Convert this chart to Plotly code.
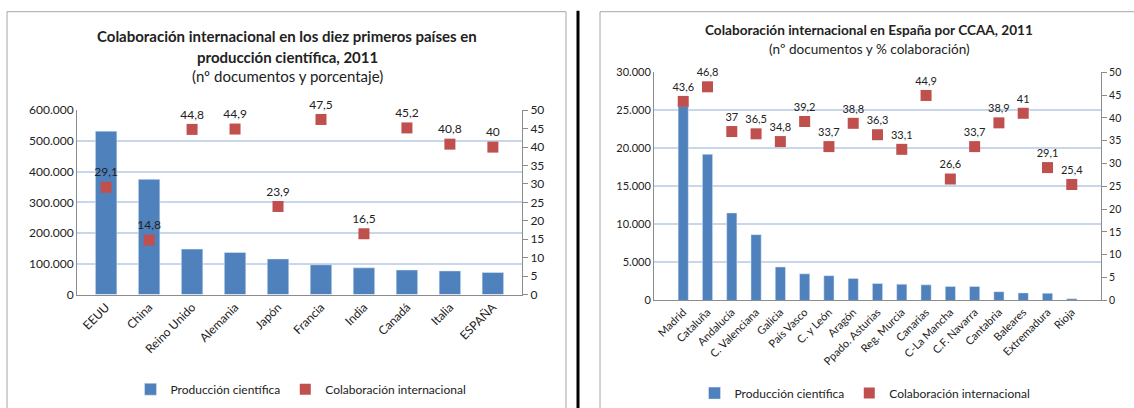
import plotly.graph_objects as go

# left chart: top ten countries
countries = ["EEUU", "China", "Reino Unido", "Alemania", "Japón", "Francia",
             "India", "Canadá", "Italia", "ESPAÑA"]
country_docs = [532000, 375000, 148000, 137000, 116000, 97000, 87000, 80000, 77000, 72000]
country_collab = [29.1, 14.8, 44.8, 44.9, 23.9, 47.5, 16.5, 45.2, 40.8, 40]

# right chart: spanish regions
regions = ["Madrid", "Cataluña", "Andalucía", "C. Valenciana", "Galicia", "País Vasco",
           "C. y León", "Aragón", "Ppado. Asturias", "Reg. Murcia", "Canarias",
           "C-La Mancha", "C.F. Navarra", "Cantabria", "Baleares", "Extremadura", "Rioja"]
region_docs = [25500, 19200, 11500, 8650, 4400, 3500, 3260, 2900, 2220, 2140, 2050,
               1840, 1840, 1150, 990, 940, 220]
region_collab = [43.6, 46.8, 37, 36.5, 34.8, 39.2, 33.7, 38.8, 36.3, 33.1, 44.9,
                 26.6, 33.7, 38.9, 41, 29.1, 25.4]

BLUE = "#4F81BD"
RED = "#C0504D"
GRID = "#C9D7EC"
AXIS = "#8C8C8C"
FONT = "Lato"
W, H = 1134, 408


def lab(v):
    return f"{v:g}".replace(".", ",")


def px_x(x):
    return x / W


def px_y(y):
    return 1 - y / H


fig = go.Figure()

fig.add_trace(go.Bar(x=countries, y=country_docs, marker_color=BLUE, width=0.5,
                     name="Producción científica", xaxis="x", yaxis="y", legend="legend"))
fig.add_trace(go.Scatter(x=countries, y=country_collab, mode="markers+text",
                         marker=dict(symbol="square", size=11, color=RED),
                         text=[lab(v) for v in country_collab], textposition="top center",
                         textfont=dict(size=12, color="#222"), cliponaxis=False,
                         name="Colaboración internacional", xaxis="x", yaxis="y2", legend="legend"))

fig.add_trace(go.Bar(x=regions, y=region_docs, marker_color=BLUE, width=0.42,
                     name="Producción científica", xaxis="x2", yaxis="y3", legend="legend2"))
fig.add_trace(go.Scatter(x=regions, y=region_collab, mode="markers+text",
                         marker=dict(symbol="square", size=11, color=RED),
                         text=[lab(v) for v in region_collab], textposition="top center",
                         textfont=dict(size=11, color="#222"), cliponaxis=False,
                         name="Colaboración internacional", xaxis="x2", yaxis="y4", legend="legend2"))

xcommon = dict(tickangle=-45, showline=True, linecolor=AXIS, ticks="", showgrid=False,
               automargin=False, tickfont=dict(size=12, color="#222"))
left_common = dict(showline=True, linecolor=AXIS, gridcolor=GRID, gridwidth=1.5,
                   ticks="", zeroline=False, tickformat=",d", automargin=False,
                   tickfont=dict(size=12, color="#222"))
right_common = dict(side="right", showline=True, linecolor=AXIS, showgrid=False, ticks="outside",
                    ticklen=5, tickcolor=AXIS, range=[0, 50], dtick=5, zeroline=False,
                    automargin=False, tickfont=dict(size=12, color="#222"))

fig.update_layout(
    width=W, height=H,
    margin=dict(l=0, r=0, t=0, b=0),
    paper_bgcolor="white", plot_bgcolor="white",
    font=dict(family=FONT, color="#222"),
    separators=",.",
    xaxis=dict(domain=[px_x(77), px_x(522)], anchor="y", **xcommon),
    yaxis=dict(domain=[px_y(302), px_y(113)], anchor="x", range=[0, 600000], dtick=100000,
               **left_common),
    yaxis2=dict(overlaying="y", anchor="x", **right_common),
    xaxis2=dict(domain=[px_x(654), px_x(1101)], anchor="y3",
                **{**xcommon, "tickfont": dict(size=11, color="#222")}),
    yaxis3=dict(domain=[px_y(308), px_y(74)], anchor="x2", range=[0, 30000], dtick=5000,
                **{**left_common, "tickfont": dict(size=11, color="#222")}),
    yaxis4=dict(overlaying="y3", anchor="x2",
                **{**right_common, "tickfont": dict(size=10.5, color="#222")}),
    legend=dict(orientation="h", x=px_x(301), xanchor="center", y=px_y(399), yanchor="middle",
                font=dict(size=12), bgcolor="rgba(0,0,0,0)", itemwidth=30),
    legend2=dict(orientation="h", x=px_x(865), xanchor="center", y=px_y(403), yanchor="middle",
                 font=dict(size=12), bgcolor="rgba(0,0,0,0)", itemwidth=30),
    showlegend=True,
)

# panel frames and the separating black line
fig.add_shape(type="rect", xref="paper", yref="paper", x0=px_x(7), x1=px_x(566),
              y0=-0.05, y1=px_y(12), line=dict(color="#A6A6A6", width=1))
fig.add_shape(type="rect", xref="paper", yref="paper", x0=px_x(600), x1=px_x(1140),
              y0=-0.05, y1=px_y(12), line=dict(color="#A6A6A6", width=1))
fig.add_shape(type="line", xref="paper", yref="paper", x0=px_x(578), x1=px_x(578),
              y0=-0.05, y1=px_y(11), line=dict(color="black", width=3))

# titles
titles = [
    (287, 37, "<b>Colaboración internacional en los diez primeros países en</b>", 15),
    (287, 58, "<b>producción científica, 2011</b>", 15),
    (287, 78, "(nº documentos y porcentaje)", 15),
    (869, 31, "<b>Colaboración internacional en España por CCAA, 2011</b>", 13.6),
    (869, 50, "(nº documentos y % colaboración)", 13.6),
]
for tx, ty, txt, size in titles:
    fig.add_annotation(x=px_x(tx), y=px_y(ty), xref="paper", yref="paper", showarrow=False,
                       xanchor="center", yanchor="middle", text=txt, font=dict(size=size))

# the page body has a default margin; drop it so the figure sits at the corner
fig.write_html("out.html", config={"displayModeBar": False},
               post_script="document.body.style.margin='0';")
